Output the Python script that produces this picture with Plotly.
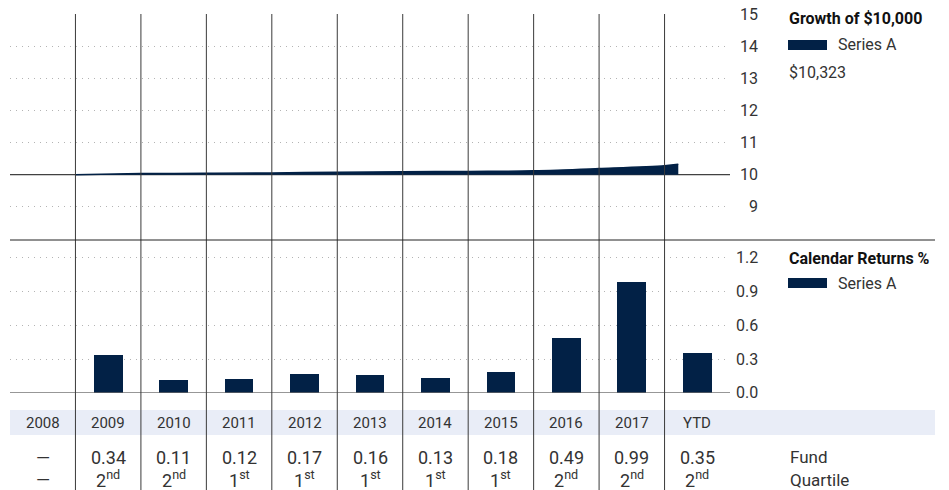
import plotly.graph_objects as go

# ---- data ----
columns = ["2008", "2009", "2010", "2011", "2012", "2013", "2014", "2015", "2016", "2017", "YTD"]
fund_returns = [None, 0.34, 0.11, 0.12, 0.17, 0.16, 0.13, 0.18, 0.49, 0.99, 0.35]
quartiles = [None, "2nd", "2nd", "1st", "1st", "1st", "1st", "1st", "2nd", "2nd", "2nd"]

# growth of $10,000 (decimal year, value in $)
growth_dates = [2009.0, 2010.0, 2011.0, 2012.0, 2013.0, 2014.0, 2015.0, 2016.0, 2017.0, 2018.0, 2018.21]
growth_values = [10000, 10034, 10045, 10057, 10074, 10090, 10103, 10121, 10190, 10278, 10323]
growth_end_label = "$10,323"

growth_ticks = [9, 10, 11, 12, 13, 14, 15]   # $ thousands
growth_base = 10                             # $10,000 starting value, in thousands
return_ticks = [0.0, 0.3, 0.6, 0.9, 1.2]

# ---- style ----
W, H = 949, 490
NAVY = "#022146"
FONT = "Roboto, sans-serif"
TXT = "#333333"
GRID = "#b4b4b4"
DOTS = "1px,5px"


def px(x):
    return x / W


def py(y):
    return 1 - y / H


n = len(columns)
xpos = list(range(n))
gx = [d - 2008.5 for d in growth_dates]
gy = [v / 1000 for v in growth_values]

fig = go.Figure()

# growth area: baseline at $10,000 then filled curve above it
fig.add_trace(go.Scatter(x=gx, y=[growth_base] * len(gx), mode="lines", line=dict(width=0, color=NAVY),
                         hoverinfo="skip", showlegend=False, xaxis="x", yaxis="y"))
fig.add_trace(go.Scatter(x=gx, y=gy, mode="lines", line=dict(width=1.5, color=NAVY, shape="spline"),
                         fill="tonexty", fillcolor=NAVY, name="Series A", showlegend=False,
                         xaxis="x", yaxis="y"))

# calendar returns bars
fig.add_trace(go.Bar(x=xpos, y=[v if v is not None else 0 for v in fund_returns], width=0.44,
                     marker=dict(color=NAVY, line=dict(width=0)), name="Series A",
                     showlegend=False, xaxis="x2", yaxis="y2"))

x_range = [-0.5, n - 0.5]
x_dom = [px(10), px(730)]
axis_common = dict(range=x_range, domain=x_dom, showgrid=False, zeroline=False,
                   showticklabels=False, showline=False, ticks="")

fig.update_layout(
    width=W, height=H,
    margin=dict(l=0, r=0, t=0, b=0),
    paper_bgcolor="white", plot_bgcolor="rgba(0,0,0,0)",
    font=dict(family=FONT, size=16, color=TXT),
    showlegend=False,
    bargap=0,
    xaxis=dict(**axis_common, anchor="y"),
    xaxis2=dict(**axis_common, anchor="y2"),
    # dotted grid everywhere except the solid reference lines (10 and 0)
    yaxis=dict(domain=[py(239), py(14)], range=[8, 15],
               tickvals=[t for t in growth_ticks if t != growth_base],
               showticklabels=False, showgrid=True, gridcolor=GRID, griddash=DOTS,
               gridwidth=1, zeroline=False, ticks="", anchor="x"),
    yaxis2=dict(domain=[py(392.7), py(240)], range=[0, 1.36],
                tickvals=[t for t in return_ticks if t != 0],
                showticklabels=False, showgrid=True, gridcolor=GRID, griddash=DOTS,
                gridwidth=1, zeroline=False, ticks="", anchor="x2"),
)

shapes = []
# table header band
shapes.append(dict(type="rect", xref="paper", yref="paper", x0=px(10), x1=px(935),
                   y0=py(435), y1=py(410), fillcolor="#e9edf7", line=dict(width=0), layer="below"))
# baseline at $10,000 (under the area) and zero line
shapes.append(dict(type="line", xref="x", yref="y", x0=x_range[0], x1=x_range[1],
                   y0=growth_base, y1=growth_base,
                   line=dict(color="#111111", width=1), layer="between"))
shapes.append(dict(type="line", xref="x2", yref="y2", x0=x_range[0], x1=x_range[1], y0=0, y1=0,
                   line=dict(color="#555555", width=1)))
# column separators
for k in range(1, n):
    shapes.append(dict(type="line", xref="x", yref="paper", x0=k - 0.5, x1=k - 0.5,
                       y0=0, y1=py(14), line=dict(color="#3a3a3a", width=1)))
# panel separator
shapes.append(dict(type="line", xref="paper", yref="paper", x0=px(10), x1=px(935),
                   y0=py(240), y1=py(240), line=dict(color="#222222", width=1)))
# legend swatches
shapes.append(dict(type="rect", xref="paper", yref="paper", x0=px(788), x1=px(827),
                   y0=py(50), y1=py(40), fillcolor=NAVY, line=dict(width=0)))
shapes.append(dict(type="rect", xref="paper", yref="paper", x0=px(788), x1=px(827),
                   y0=py(288), y1=py(278), fillcolor=NAVY, line=dict(width=0)))
fig.update_layout(shapes=shapes)

ann = []
# y tick labels, right aligned
for t in growth_ticks:
    ann.append(dict(x=px(760), y=t, xref="paper", yref="y", text=str(t), showarrow=False,
                    xanchor="right", yanchor="middle", font=dict(size=16, color=TXT)))
for t in return_ticks:
    ann.append(dict(x=px(760), y=t, xref="paper", yref="y2", text=f"{t:.1f}", showarrow=False,
                    xanchor="right", yanchor="middle", font=dict(size=16, color=TXT)))

# side legends
ann.append(dict(x=px(787), y=py(18), xref="paper", yref="paper", text="<b>Growth of $10,000</b>",
                showarrow=False, xanchor="left", yanchor="middle", font=dict(size=16, color="#111111")))
ann.append(dict(x=px(836), y=py(45), xref="paper", yref="paper", text="Series A",
                showarrow=False, xanchor="left", yanchor="middle", font=dict(size=16, color=TXT)))
ann.append(dict(x=px(787), y=py(72), xref="paper", yref="paper", text=growth_end_label,
                showarrow=False, xanchor="left", yanchor="middle", font=dict(size=16, color=TXT)))
ann.append(dict(x=px(787), y=py(258), xref="paper", yref="paper", text="<b>Calendar Returns %</b>",
                showarrow=False, xanchor="left", yanchor="middle", font=dict(size=16, color="#111111")))
ann.append(dict(x=px(836), y=py(283), xref="paper", yref="paper", text="Series A",
                showarrow=False, xanchor="left", yanchor="middle", font=dict(size=16, color=TXT)))

# table rows
for i, c in enumerate(columns):
    ann.append(dict(x=i, y=py(423), xref="x", yref="paper", text=c, showarrow=False,
                    xanchor="center", yanchor="middle", font=dict(size=15, color=TXT)))
    v = fund_returns[i]
    ann.append(dict(x=i, y=py(457), xref="x", yref="paper",
                    text="—" if v is None else f"{v:.2f}", showarrow=False,
                    xanchor="center", yanchor="middle", font=dict(size=18, color=TXT)))
    q = quartiles[i]
    qtext = "—" if q is None else f"{q[0]}<sup>{q[1:]}</sup>"
    ann.append(dict(x=i, y=py(479), xref="x", yref="paper", text=qtext, showarrow=False,
                    xanchor="center", yanchor="middle", font=dict(size=18, color=TXT)))
ann.append(dict(x=px(788), y=py(457), xref="paper", yref="paper", text="Fund", showarrow=False,
                xanchor="left", yanchor="middle", font=dict(size=17, color=TXT)))
ann.append(dict(x=px(788), y=py(480), xref="paper", yref="paper", text="Quartile", showarrow=False,
                xanchor="left", yanchor="middle", font=dict(size=17, color=TXT)))
fig.update_layout(annotations=ann)

fig.write_html("out.html")
